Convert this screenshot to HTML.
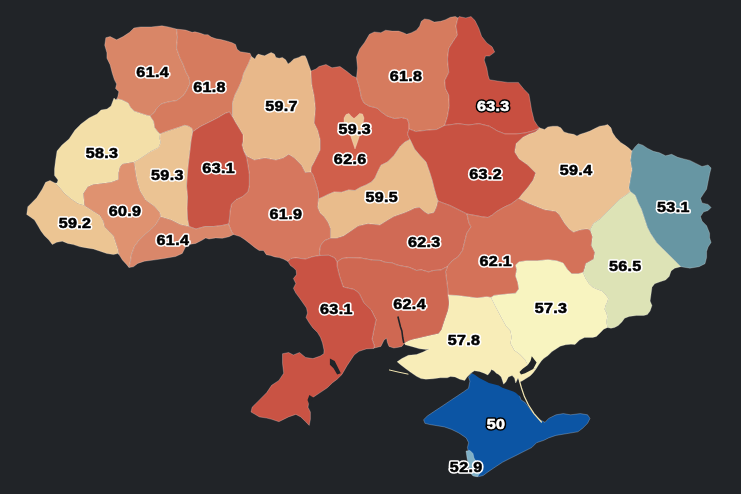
<!DOCTYPE html><html><head><meta charset="utf-8"><style>
html,body{margin:0;padding:0;background:#212428;}svg{display:block;filter:blur(0.4px)}
.r{stroke:#fff;stroke-opacity:.3;stroke-width:.8;stroke-linejoin:round}
.l{font-family:"Liberation Sans",sans-serif;font-weight:bold;font-size:14px;text-anchor:middle;letter-spacing:0.3px;stroke-linejoin:round}
.w{fill:#fff;stroke:#000}
</style></head><body>
<svg width="741" height="494" viewBox="0 0 741 494">
<rect width="741" height="494" fill="#212428"/>
<polygon class="r" fill="#0c55a4" points="423.6,419.7 427.3,416.0 434.6,411.1 441.9,406.3 449.1,401.4 456.4,396.6 463.7,391.7 468.5,388.3 469.9,381.2 468.5,377.0 471.3,373.5 476.0,372.5 481.0,373.5 486.0,372.0 490.0,371.5 494.0,373.0 498.0,375.0 502.0,377.0 506.0,379.0 510.0,380.0 514.0,382.0 516.5,386.0 518.5,392.0 520.9,399.7 525.2,402.5 529.4,408.2 533.7,413.8 539.3,419.5 545.0,422.3 548.7,418.4 556.0,414.8 563.3,413.6 570.6,414.8 580.3,413.6 587.6,414.8 590.0,418.4 587.6,423.3 582.7,428.2 577.9,431.8 570.6,433.0 563.3,434.2 556.0,435.4 548.7,437.9 543.9,440.3 536.6,442.7 531.7,447.6 526.9,450.0 522.0,452.4 517.2,454.9 509.9,458.5 502.6,462.2 495.3,467.0 488.0,471.9 483.2,475.5 478.3,476.7 473.4,475.5 469.8,471.9 468.6,464.6 469.8,457.3 468.6,452.4 467.4,447.6 468.6,442.7 466.2,437.9 458.9,433.0 451.6,429.4 444.3,426.9 437.0,425.7 429.7,424.5 424.9,423.3"/>
<polygon fill="#212428" points="471.0,373.0 474.4,374.4 479.3,378.1 484.2,380.5 489.0,382.9 493.9,384.2 498.7,385.4 502.4,387.8 506.0,389.0 509.7,390.2 513.3,391.4 515.7,392.7 518.2,395.1 521.0,397.0 522.0,390.0 521.0,380.0 518.0,372.0 500.0,366.0 480.0,366.0 472.0,369.0"/>
<polygon class="r" fill="#d98667" points="116.0,100.0 117.7,97.0 118.8,91.7 115.5,88.4 116.6,84.1 114.4,79.8 112.3,73.3 110.1,64.7 106.9,58.2 106.9,52.8 104.7,45.2 105.8,37.7 110.1,36.6 116.6,39.8 123.1,36.6 129.6,32.3 133.9,28.0 140.4,26.9 151.2,26.9 162.0,25.8 168.4,26.9 176.5,29.0 177.5,37.0 176.5,48.0 180.0,58.0 183.0,64.0 186.0,72.0 189.0,77.5 190.0,83.5 187.0,90.0 183.5,95.5 177.0,100.5 168.0,102.0 161.0,104.0 157.0,108.0 154.0,113.0 150.0,116.0 146.4,115.2 140.3,113.2 134.3,111.2 130.2,107.1 128.2,103.1 122.1,100.1 118.1,99.0"/>
<polygon class="r" fill="#d67b5e" points="176.5,29.0 185.7,30.1 192.2,32.3 195.0,31.8 199.9,33.1 204.7,34.7 208.0,34.7 211.2,37.1 216.1,38.8 220.9,39.6 227.4,41.2 232.2,42.8 235.5,44.4 237.1,49.3 240.3,51.7 245.2,52.5 250.1,53.3 251.5,56.5 248.4,63.9 243.6,73.6 242.0,80.0 239.0,87.0 235.0,95.0 232.5,103.0 232.5,111.0 232.5,117.0 229.4,112.0 225.2,113.4 218.0,117.7 209.6,122.0 201.0,126.2 192.6,131.9 191.9,128.4 188.9,126.4 184.8,125.3 178.8,127.4 172.7,129.4 166.6,131.4 160.0,134.0 157.5,131.4 154.5,127.4 153.5,121.3 150.0,116.0 154.0,113.0 157.0,108.0 161.0,104.0 168.0,102.0 177.0,100.5 183.5,95.5 187.0,90.0 190.0,83.5 189.0,77.5 186.0,72.0 183.0,64.0 180.0,58.0 176.5,48.0 177.5,37.0"/>
<polygon class="r" fill="#e8b88a" points="251.5,56.5 254.9,59.0 256.5,55.8 258.2,54.1 261.4,55.0 264.6,55.8 267.9,54.1 271.1,52.5 274.4,54.1 276.0,57.4 279.2,58.2 282.4,57.4 285.7,59.8 288.1,63.9 290.5,62.2 293.8,59.0 298.6,57.4 301.9,55.8 305.1,55.8 306.7,59.0 308.4,63.9 311.0,71.0 311.8,84.3 314.3,96.4 315.5,108.5 314.3,123.1 317.9,130.4 320.3,140.1 320.3,149.8 316.7,157.1 314.3,161.9 311.5,167.0 311.0,172.0 305.2,172.6 301.6,165.4 294.3,158.0 288.8,154.4 283.4,158.0 276.0,160.0 265.0,158.0 254.2,160.0 246.9,156.2 243.5,150.5 242.0,145.0 243.0,141.0 243.0,135.0 239.5,129.0 235.5,122.5 232.5,117.0 232.5,111.0 232.5,103.0 235.0,95.0 239.0,87.0 242.0,80.0 243.6,73.6 248.4,63.9"/>
<polygon class="r" fill="#d05f4b" points="311.0,71.0 316.0,69.0 319.0,66.5 326.0,64.5 332.0,67.8 340.0,66.5 347.0,71.5 352.5,76.0 356.5,77.7 359.5,88.0 361.5,98.0 364.0,103.0 369.0,106.0 377.0,108.0 381.5,112.0 387.0,116.0 394.7,118.5 401.5,117.5 407.5,119.0 409.0,124.0 409.0,129.0 407.5,134.0 410.0,139.5 405.0,142.0 400.5,146.0 394.0,155.5 387.5,162.0 381.0,165.2 377.8,171.7 375.0,178.0 371.5,182.0 366.0,185.0 360.0,187.5 355.0,190.5 348.6,190.0 341.5,192.3 334.0,192.0 328.0,194.5 323.0,197.0 318.5,199.0 318.5,193.0 316.2,184.6 313.0,175.0 311.0,172.0 311.5,167.0 314.3,161.9 316.7,157.1 320.3,149.8 320.3,140.1 317.9,130.4 314.3,123.1 315.5,108.5 314.3,96.4 311.8,84.3"/>
<polygon class="r" fill="#d67b5e" points="356.5,77.7 357.5,68.0 356.5,57.0 359.7,48.9 364.6,42.4 369.4,34.3 374.3,31.9 380.8,32.7 385.6,30.2 392.1,31.1 398.6,31.1 403.4,32.7 406.7,34.3 411.5,32.7 416.4,30.2 419.6,26.2 421.3,21.3 424.5,18.9 429.4,19.7 434.2,22.1 440.7,21.3 445.5,19.7 450.4,17.3 455.3,16.5 458.0,18.0 456.0,26.0 457.5,35.0 452.8,42.0 448.8,48.5 447.5,59.0 448.8,72.5 444.8,80.5 445.5,88.5 448.8,95.0 449.3,106.0 447.5,116.5 444.7,125.5 436.8,129.5 426.3,130.3 415.8,131.6 409.0,129.0 409.0,124.0 407.5,119.0 401.5,117.5 394.7,118.5 387.0,116.0 381.5,112.0 377.0,108.0 369.0,106.0 364.0,103.0 361.5,98.0 359.5,88.0"/>
<polygon class="r" fill="#c84f40" points="458.0,18.0 459.2,16.6 465.8,17.9 471.0,16.6 475.0,20.5 478.9,28.4 481.6,36.3 486.8,42.9 492.1,46.8 494.7,52.1 489.5,56.0 485.5,56.0 484.2,60.0 486.8,67.9 488.2,75.8 489.5,79.7 497.4,81.0 507.9,82.4 518.4,82.4 523.7,89.0 528.9,94.2 530.3,102.1 531.6,110.0 534.2,120.5 538.0,126.5 540.0,128.0 533.0,131.0 525.0,133.0 516.0,134.0 505.0,134.0 497.4,131.0 489.5,126.3 479.0,123.7 468.4,125.0 458.0,123.7 444.7,125.5 447.5,116.5 449.3,106.0 448.8,95.0 445.5,88.5 444.8,80.5 448.8,72.5 447.5,59.0 448.8,48.5 452.8,42.0 457.5,35.0 456.0,26.0"/>
<polygon class="r" fill="#ebc193" points="540.0,128.0 544.6,129.4 547.8,127.0 552.7,126.2 557.5,126.2 560.8,127.8 564.0,131.9 568.9,133.5 573.7,134.3 577.0,135.9 580.2,134.3 585.1,132.7 589.9,131.1 594.8,128.6 599.6,126.2 604.5,125.4 607.7,124.6 611.0,127.8 612.6,132.7 615.8,137.5 620.7,142.4 625.5,145.6 628.8,148.1 632.0,151.0 630.6,160.4 632.2,169.5 630.6,178.6 629.1,187.7 630.3,191.5 626.8,194.5 620.2,198.9 613.5,205.6 606.8,212.3 600.1,218.9 593.5,223.4 590.0,230.0 586.8,229.0 580.1,230.0 573.4,232.3 569.0,229.0 564.5,223.4 559.0,214.5 555.6,211.5 544.3,209.7 528.7,203.5 518.5,198.5 522.0,194.0 528.0,187.0 533.0,180.0 535.5,173.0 527.5,165.0 519.0,159.0 514.6,152.0 516.0,143.5 523.0,137.0 529.0,134.0 535.0,132.0"/>
<polygon class="r" fill="#6796a3" points="632.0,151.0 635.2,146.7 638.2,143.7 642.8,145.2 647.3,148.2 653.4,151.3 659.5,152.8 665.6,155.8 671.6,154.3 677.7,157.3 683.8,158.9 689.9,160.4 695.9,163.4 702.0,166.5 708.1,164.9 711.1,168.0 709.6,174.0 708.1,181.6 706.6,189.2 703.5,193.8 700.5,198.3 702.0,202.9 708.1,204.4 711.1,207.5 708.1,210.5 703.5,212.0 700.5,216.6 702.0,221.1 706.6,225.7 709.6,233.3 709.6,237.8 711.1,242.4 708.1,247.0 706.6,251.5 706.6,257.6 705.0,263.7 699.0,266.7 689.9,268.2 680.8,266.7 674.7,260.6 668.6,254.5 662.5,248.5 656.5,242.4 650.4,233.3 647.3,227.2 644.3,218.1 641.3,209.0 638.2,202.9 635.2,195.3 630.3,191.5 629.1,187.7 630.6,178.6 632.2,169.5 630.6,160.4"/>
<polygon class="r" fill="#dde3b6" points="680.8,266.7 674.7,268.2 671.1,270.9 669.2,276.4 665.6,280.0 660.1,281.8 654.7,283.7 652.0,287.3 651.0,294.6 650.1,301.0 652.0,305.5 650.1,311.0 647.4,314.6 643.8,315.5 636.5,315.5 629.2,316.4 624.6,318.3 621.9,321.9 618.3,325.6 614.6,327.4 611.0,328.3 607.5,327.5 606.4,321.9 607.3,316.4 606.4,312.8 604.6,309.2 605.5,305.5 607.3,301.9 608.3,298.2 605.5,294.6 601.9,291.0 596.4,289.1 592.8,287.3 589.1,283.7 585.5,278.2 583.0,272.5 584.6,268.0 585.7,263.4 593.5,259.0 594.6,252.3 591.2,245.6 592.3,236.7 590.0,230.0 593.5,223.4 600.1,218.9 606.8,212.3 613.5,205.6 620.2,198.9 626.8,194.5 630.3,191.5 635.2,195.3 638.2,202.9 641.3,209.0 644.3,218.1 647.3,227.2 650.4,233.3 656.5,242.4 662.5,248.5 668.6,254.5 674.7,260.6"/>
<polygon class="r" fill="#c85242" points="409.0,129.0 415.8,131.6 426.3,130.3 436.8,129.5 444.7,125.5 458.0,123.7 468.4,125.0 479.0,123.7 489.5,126.3 497.4,131.0 505.0,134.0 516.0,134.0 525.0,133.0 533.0,131.0 540.0,128.0 535.0,132.0 529.0,134.0 523.0,137.0 516.0,143.5 514.6,152.0 519.0,159.0 527.5,165.0 535.5,173.0 533.0,180.0 528.0,187.0 522.0,194.0 518.5,198.5 511.1,204.0 504.4,207.0 496.6,211.5 492.3,215.0 488.0,217.5 482.0,216.8 475.3,215.5 467.0,214.0 458.0,209.5 450.0,205.5 443.0,203.0 438.0,201.0 436.5,197.0 434.0,188.0 432.0,180.0 429.5,172.0 426.0,162.0 420.0,155.5 414.5,149.0 410.0,139.5 407.5,134.0"/>
<polygon class="r" fill="#e9bc8c" points="318.5,199.0 323.0,197.0 328.0,194.5 334.0,192.0 341.5,192.3 348.6,190.0 355.0,190.5 360.0,187.5 366.0,185.0 371.5,182.0 375.0,178.0 377.8,171.7 381.0,165.2 387.5,162.0 394.0,155.5 400.5,146.0 405.0,142.0 410.0,139.5 414.5,149.0 420.0,155.5 426.0,162.0 429.5,172.0 432.0,180.0 434.0,188.0 436.5,197.0 438.0,201.0 436.5,207.0 434.0,212.5 428.0,214.0 424.0,211.5 419.5,207.5 415.0,208.0 410.0,210.5 404.0,213.0 394.0,216.5 388.0,220.0 380.0,225.0 368.0,223.7 358.3,226.1 351.0,231.0 343.7,235.9 336.4,238.3 330.4,238.3 330.4,228.6 328.0,222.5 324.3,217.0 320.0,213.0 317.5,207.0"/>
<polygon class="r" fill="#d6775e" points="243.5,150.5 246.9,156.2 254.2,160.0 265.0,158.0 276.0,160.0 283.4,158.0 288.8,154.4 294.3,158.0 301.6,165.4 305.2,172.6 311.0,172.0 313.0,175.0 316.2,184.6 318.5,193.0 318.5,199.0 317.5,207.0 320.0,213.0 324.3,217.0 328.0,222.5 330.4,228.6 330.4,238.3 324.3,240.7 320.6,245.6 319.4,252.9 320.0,255.5 312.8,256.7 305.5,259.1 295.8,257.9 291.0,258.5 288.0,261.5 283.3,259.0 279.1,257.6 274.8,256.9 270.6,255.5 266.3,254.7 263.5,250.5 259.2,250.5 255.0,247.7 249.7,243.4 244.9,239.7 240.0,236.5 233.5,234.5 231.3,231.2 228.5,224.0 229.5,218.0 230.0,211.0 231.5,204.0 236.0,199.5 242.5,196.5 248.0,191.5 249.3,185.0 249.3,174.5 248.0,166.0 246.5,157.5"/>
<polygon class="r" fill="#c85444" points="192.6,131.9 201.0,126.2 209.6,122.0 218.0,117.7 225.2,113.4 229.4,112.0 232.5,117.0 235.5,122.5 239.5,129.0 243.0,135.0 243.0,141.0 242.0,145.0 243.5,150.5 246.5,157.5 248.0,166.0 249.3,174.5 249.3,185.0 248.0,191.5 242.5,196.5 236.0,199.5 231.5,204.0 230.0,211.0 229.5,218.0 228.5,224.0 222.0,225.5 213.5,226.5 205.0,226.5 196.0,229.0 189.0,226.5 187.5,219.0 187.0,208.5 187.5,197.0 186.5,186.0 187.0,178.0 188.0,166.0 189.7,152.0 191.0,140.5"/>
<polygon class="r" fill="#ebc393" points="160.0,134.0 166.6,131.4 172.7,129.4 178.8,127.4 184.8,125.3 188.9,126.4 191.9,128.4 192.6,131.9 191.0,140.5 189.7,152.0 188.0,166.0 187.0,178.0 186.5,186.0 187.5,197.0 187.0,208.5 187.5,219.0 189.0,226.5 180.0,224.5 171.2,220.0 160.5,216.7 160.0,213.0 154.5,206.5 145.5,200.0 140.0,191.0 137.5,183.0 136.0,176.0 135.0,169.0 134.0,162.0 138.3,159.7 144.4,155.7 150.5,151.6 158.5,147.6 160.6,142.5 159.6,138.5"/>
<polygon class="r" fill="#f3dfa8" points="55.0,183.0 57.0,183.0 58.0,180.0 54.5,175.6 54.5,168.9 55.6,160.0 57.0,151.0 62.0,145.0 69.0,139.0 75.0,130.0 81.0,124.0 89.0,118.0 97.0,114.0 101.0,110.0 107.0,109.0 111.0,106.0 114.0,98.0 116.0,100.0 118.1,99.0 122.1,100.1 128.2,103.1 130.2,107.1 134.3,111.2 140.3,113.2 146.4,115.2 150.0,116.0 153.5,121.3 154.5,127.4 157.5,131.4 160.0,134.0 159.6,138.5 160.6,142.5 158.5,147.6 150.5,151.6 144.4,155.7 138.3,159.7 134.0,162.0 128.5,163.0 122.5,164.0 120.0,167.0 118.5,173.0 118.5,179.5 111.2,182.3 102.3,183.4 93.4,184.5 87.9,186.7 83.4,193.4 84.5,205.6 77.9,203.4 71.2,199.0 64.5,193.4 59.0,186.7"/>
<polygon class="r" fill="#ecc593" points="119.0,254.6 117.9,253.5 113.5,254.6 106.8,253.5 100.1,251.2 93.4,249.0 86.8,247.9 80.1,246.8 73.4,244.6 67.8,243.4 62.3,241.2 56.7,242.3 52.3,244.6 48.9,240.1 44.5,235.7 41.1,231.2 37.8,225.6 34.5,220.0 30.0,216.7 26.7,214.5 27.8,206.7 31.1,203.4 36.7,197.8 42.3,188.9 45.6,182.3 50.0,180.5 55.0,183.0 59.0,186.7 64.5,193.4 71.2,199.0 77.9,203.4 84.5,205.6 93.4,211.2 100.1,215.6 103.4,221.2 104.6,226.8 109.0,231.2 113.5,235.7 115.7,242.3 117.9,249.0"/>
<polygon class="r" fill="#df9270" points="134.0,162.0 128.5,163.0 122.5,164.0 120.0,167.0 118.5,173.0 118.5,179.5 111.2,182.3 102.3,183.4 93.4,184.5 87.9,186.7 83.4,193.4 84.5,205.6 93.4,211.2 100.1,215.6 103.4,221.2 104.6,226.8 109.0,231.2 113.5,235.7 115.7,242.3 117.9,249.0 119.0,254.6 122.4,260.0 126.5,264.5 129.0,267.5 130.5,261.0 131.5,254.5 134.5,246.5 140.0,239.0 148.0,232.0 156.0,224.5 160.5,216.7 160.0,213.0 154.5,206.5 145.5,200.0 140.0,191.0 137.5,183.0 136.0,176.0 135.0,169.0"/>
<polygon class="r" fill="#d9876a" points="233.5,234.5 229.0,236.7 222.4,238.3 215.7,237.9 209.0,239.0 205.7,237.9 202.3,240.1 195.7,243.4 189.0,244.5 185.6,246.8 182.3,253.4 175.6,256.5 164.0,258.5 153.4,260.1 144.5,261.2 137.8,263.4 133.4,266.8 129.0,267.5 130.5,261.0 131.5,254.5 134.5,246.5 140.0,239.0 148.0,232.0 156.0,224.5 160.5,216.7 171.2,220.0 180.0,224.5 189.0,226.5 196.0,229.0 205.0,226.5 213.5,226.5 222.0,225.5 228.5,224.0 231.3,231.2"/>
<polygon class="r" fill="#d06a55" points="438.0,201.0 443.0,203.0 450.0,205.5 458.0,209.5 467.0,214.0 468.9,222.7 471.0,226.9 466.8,233.3 464.7,241.8 462.6,250.3 458.3,256.7 451.9,261.0 447.5,266.5 441.0,270.0 433.6,270.5 428.6,272.0 421.4,269.9 416.4,270.5 409.3,267.4 404.3,266.5 397.0,265.0 392.0,262.8 385.0,262.3 380.0,260.4 372.9,260.2 360.7,258.0 348.6,257.7 342.0,258.5 337.0,262.0 334.7,257.9 329.0,255.3 320.0,255.5 319.4,252.9 320.6,245.6 324.3,240.7 330.4,238.3 336.4,238.3 343.7,235.9 351.0,231.0 358.3,226.1 368.0,223.7 380.0,225.0 388.0,220.0 394.0,216.5 404.0,213.0 410.0,210.5 415.0,208.0 419.5,207.5 424.0,211.5 428.0,214.0 434.0,212.5 436.5,207.0"/>
<polygon class="r" fill="#d47259" points="467.0,214.0 475.3,215.5 482.0,216.8 488.0,217.5 492.3,215.0 496.6,211.5 504.4,207.0 511.1,204.0 518.5,198.5 528.7,203.5 544.3,209.7 555.6,211.5 559.0,214.5 564.5,223.4 569.0,229.0 573.4,232.3 580.1,230.0 586.8,229.0 590.0,230.0 592.3,236.7 591.2,245.6 594.6,252.3 593.5,259.0 585.7,263.4 584.6,268.0 583.0,272.5 578.2,273.8 571.7,273.8 567.4,269.4 563.1,263.0 556.6,260.8 548.0,259.7 537.2,260.8 526.4,260.8 518.8,261.9 515.6,265.1 516.7,269.4 515.6,275.9 517.8,282.4 518.8,288.9 515.6,293.2 504.8,294.3 494.0,295.4 491.0,297.5 486.8,296.8 477.1,298.0 467.4,296.8 457.7,295.6 448.0,295.0 447.7,288.6 446.6,280.1 445.5,271.6 447.5,266.5 451.9,261.0 458.3,256.7 462.6,250.3 464.7,241.8 466.8,233.3 471.0,226.9 468.9,222.7"/>
<polygon class="r" fill="#f8f4c0" points="491.0,297.5 494.0,295.4 504.8,294.3 515.6,293.2 518.8,288.9 517.8,282.4 515.6,275.9 516.7,269.4 515.6,265.1 518.8,261.9 526.4,260.8 537.2,260.8 548.0,259.7 556.6,260.8 563.1,263.0 567.4,269.4 571.7,273.8 578.2,273.8 583.0,272.5 585.5,278.2 589.1,283.7 592.8,287.3 596.4,289.1 601.9,291.0 605.5,294.6 608.3,298.2 607.3,301.9 605.5,305.5 604.6,309.2 606.4,312.8 607.3,316.4 606.4,321.9 607.5,327.5 603.7,329.2 600.0,333.0 596.4,336.5 592.8,337.4 587.3,337.4 584.5,337.6 579.5,340.0 575.0,344.5 571.0,344.2 565.6,344.8 560.2,346.2 556.0,349.0 552.0,351.6 548.0,355.6 544.0,358.3 541.3,361.0 538.5,365.0 536.0,369.0 527.8,365.1 525.1,359.7 519.7,354.3 514.3,350.2 510.5,343.5 511.5,337.0 510.5,331.0 506.0,326.0 501.0,317.0 496.0,307.5"/>
<polygon class="r" fill="#f8edb8" points="448.0,295.0 457.7,295.6 467.4,296.8 477.1,298.0 486.8,296.8 491.0,297.5 496.0,307.5 501.0,317.0 506.0,326.0 510.5,331.0 511.5,337.0 510.5,343.5 514.3,350.2 519.7,354.3 525.1,359.7 527.8,365.1 536.0,369.0 533.0,373.0 530.0,376.0 526.0,378.5 522.0,381.0 519.5,382.0 518.0,378.0 515.7,383.0 514.5,378.1 512.1,375.6 508.4,376.9 506.0,381.7 503.6,384.2 502.4,380.5 501.2,376.9 498.7,374.4 496.3,373.2 493.9,370.8 491.4,369.6 490.2,372.0 487.8,375.0 484.2,373.2 479.3,371.4 474.4,370.8 470.8,373.2 467.1,376.9 464.7,380.5 459.9,379.3 455.0,376.9 450.5,376.5 447.3,377.8 440.4,377.8 433.1,378.8 425.8,379.2 421.0,378.6 416.5,376.3 411.0,372.5 405.5,368.5 400.3,364.5 397.1,361.8 401.9,358.5 408.4,355.3 416.5,354.5 423.0,352.1 429.4,348.8 426.2,349.6 419.7,348.8 411.6,346.4 405.2,344.8 404.5,343.0 408.5,340.8 413.0,339.3 418.8,338.0 425.0,336.5 431.5,335.0 438.5,333.5 441.5,329.5 443.4,323.4 445.7,316.7 448.0,310.0 449.0,303.0"/>
<polygon class="r" fill="#cf6852" points="337.0,262.0 342.0,258.5 348.6,257.7 360.7,258.0 372.9,260.2 380.0,260.4 385.0,262.3 392.0,262.8 397.0,265.0 404.3,266.5 409.3,267.4 416.4,270.5 421.4,269.9 428.6,272.0 433.6,270.5 441.0,270.0 447.5,266.5 445.5,271.6 446.6,280.1 447.7,288.6 448.0,295.0 449.0,303.0 448.0,310.0 445.7,316.7 443.4,323.4 441.5,329.5 438.5,333.5 431.5,335.0 425.0,336.5 418.8,338.0 413.0,339.3 408.5,340.8 404.5,343.0 401.9,346.4 398.7,347.2 393.8,348.0 389.0,346.4 387.4,342.4 386.6,338.3 384.1,339.9 380.9,346.4 374.4,348.0 373.6,348.5 374.4,346.0 372.0,339.1 373.6,331.0 376.0,319.7 371.2,310.0 363.8,302.8 359.0,293.1 354.1,289.5 343.2,287.0 339.5,276.1 337.1,266.4"/>
<polygon class="r" fill="#c95344" points="320.0,255.5 329.0,255.3 334.7,257.9 337.0,262.0 337.1,266.4 339.5,276.1 343.2,287.0 354.1,289.5 359.0,293.1 363.8,302.8 371.2,310.0 376.0,319.7 373.6,331.0 372.0,339.1 374.4,346.0 373.6,348.5 366.3,348.9 359.0,351.3 354.2,354.9 346.9,365.9 342.0,374.4 337.2,379.2 332.3,382.9 327.4,387.7 320.2,392.6 312.9,397.4 309.2,399.9 308.0,407.2 310.4,412.0 310.4,419.3 309.2,425.4 305.6,421.7 300.7,416.9 295.9,414.4 288.6,416.9 278.9,421.7 271.6,419.3 266.7,418.1 259.4,416.9 251.0,412.0 252.1,407.2 259.4,399.9 266.7,392.6 271.6,385.3 278.9,380.4 283.7,373.2 282.5,363.4 282.5,353.7 288.6,352.5 293.4,354.9 299.5,352.5 305.6,357.4 312.9,358.6 320.2,356.1 323.8,353.7 324.0,350.0 322.5,343.0 320.5,337.5 317.5,332.5 312.5,327.5 309.0,322.5 306.0,317.5 307.5,313.0 306.5,308.0 303.0,303.0 299.5,298.0 295.8,293.1 293.4,288.3 295.8,283.4 293.4,278.6 296.5,274.6 296.1,270.3 293.2,267.5 290.4,265.5 288.0,261.5 291.0,258.5 295.8,257.9 305.5,259.1 312.8,256.7"/>
<polygon class="r" fill="#7fb0c6" points="466.0,451.0 470.0,450.5 473.0,453.5 474.0,458.0 477.0,463.0 479.5,468.0 480.0,473.0 477.5,476.8 473.0,476.0 469.5,472.0 468.5,465.0 467.0,458.0"/>
<polygon class="r" fill="#ebc393" points="344.0,118.0 346.0,114.5 349.0,113.5 351.0,116.0 354.0,118.5 357.0,116.0 359.5,113.5 362.5,114.0 364.0,118.0 363.0,124.0 361.0,130.0 359.5,136.0 357.5,142.0 355.0,149.0 353.0,143.0 351.0,137.0 349.0,131.0 346.0,126.0 344.0,122.0"/>
<polyline fill="none" stroke="#212428" stroke-width="1.6" stroke-linejoin="round" points="397.9,316.5 399.5,323.0 400.5,327.0 401.9,331.0 402.7,337.5 403.8,343.0"/>
<polygon fill="#212428" points="329.9,358.6 334.7,361.0 337.2,365.9 340.8,373.2 337.2,374.4 333.5,368.3 329.9,364.7"/>
<polygon fill="#212428" points="531.8,356.3 536.6,362.4 533.2,369.1 525.1,373.2 521.0,374.5 519.5,372.0 522.4,369.1 527.8,365.1 530.5,361.0"/>
<polygon fill="#212428" points="309.4,394.9 313.7,397.7 311.5,401.0 309.0,404.0 307.5,400.0"/>
<polyline fill="none" stroke="#f3e6b2" stroke-width="1.2" stroke-linecap="round" points="519.5,381.0 521.5,388.0 524.4,396.6 528.5,405.0 534.0,413.6 541.4,422.0"/>
<polyline fill="none" stroke="#f3e6b2" stroke-width="1" points="389.0,369.9 398.0,372.0 408.4,374.2"/>
<g transform="translate(152.7,77.10) scale(1.15,1)"><text class="l" fill="#fff" stroke="#fff" stroke-width="3.4">61.4</text><text class="l" fill="#000" stroke="#000" stroke-width="0.55">61.4</text></g>
<g transform="translate(209.5,92.00) scale(1.15,1)"><text class="l" fill="#fff" stroke="#fff" stroke-width="3.4">61.8</text><text class="l" fill="#000" stroke="#000" stroke-width="0.55">61.8</text></g>
<g transform="translate(281.5,111.40) scale(1.15,1)"><text class="l" fill="#fff" stroke="#fff" stroke-width="3.4">59.7</text><text class="l" fill="#000" stroke="#000" stroke-width="0.55">59.7</text></g>
<g transform="translate(354.8,133.60) scale(1.15,1)"><text class="l" fill="#fff" stroke="#fff" stroke-width="3.4">59.3</text><text class="l" fill="#000" stroke="#000" stroke-width="0.55">59.3</text></g>
<g transform="translate(406.0,81.20) scale(1.15,1)"><text class="l" fill="#fff" stroke="#fff" stroke-width="3.4">61.8</text><text class="l" fill="#000" stroke="#000" stroke-width="0.55">61.8</text></g>
<g transform="translate(493.3,111.40) scale(1.15,1)"><text class="l" fill="#000" stroke="#000" stroke-width="3.4">63.3</text><text class="l" fill="#fff" stroke="#fff" stroke-width="0.55">63.3</text></g>
<g transform="translate(102.0,158.40) scale(1.15,1)"><text class="l" fill="#fff" stroke="#fff" stroke-width="3.4">58.3</text><text class="l" fill="#000" stroke="#000" stroke-width="0.55">58.3</text></g>
<g transform="translate(167.4,179.60) scale(1.15,1)"><text class="l" fill="#fff" stroke="#fff" stroke-width="3.4">59.3</text><text class="l" fill="#000" stroke="#000" stroke-width="0.55">59.3</text></g>
<g transform="translate(218.7,173.20) scale(1.15,1)"><text class="l" fill="#fff" stroke="#fff" stroke-width="3.4">63.1</text><text class="l" fill="#000" stroke="#000" stroke-width="0.55">63.1</text></g>
<g transform="translate(350.2,164.10) scale(1.15,1)"><text class="l" fill="#fff" stroke="#fff" stroke-width="3.4">62.6</text><text class="l" fill="#000" stroke="#000" stroke-width="0.55">62.6</text></g>
<g transform="translate(381.8,201.50) scale(1.15,1)"><text class="l" fill="#fff" stroke="#fff" stroke-width="3.4">59.5</text><text class="l" fill="#000" stroke="#000" stroke-width="0.55">59.5</text></g>
<g transform="translate(485.6,178.80) scale(1.15,1)"><text class="l" fill="#fff" stroke="#fff" stroke-width="3.4">63.2</text><text class="l" fill="#000" stroke="#000" stroke-width="0.55">63.2</text></g>
<g transform="translate(576.1,174.70) scale(1.15,1)"><text class="l" fill="#fff" stroke="#fff" stroke-width="3.4">59.4</text><text class="l" fill="#000" stroke="#000" stroke-width="0.55">59.4</text></g>
<g transform="translate(673.4,211.70) scale(1.15,1)"><text class="l" fill="#fff" stroke="#fff" stroke-width="3.4">53.1</text><text class="l" fill="#000" stroke="#000" stroke-width="0.55">53.1</text></g>
<g transform="translate(75.0,227.90) scale(1.15,1)"><text class="l" fill="#fff" stroke="#fff" stroke-width="3.4">59.2</text><text class="l" fill="#000" stroke="#000" stroke-width="0.55">59.2</text></g>
<g transform="translate(125.0,216.30) scale(1.15,1)"><text class="l" fill="#fff" stroke="#fff" stroke-width="3.4">60.9</text><text class="l" fill="#000" stroke="#000" stroke-width="0.55">60.9</text></g>
<g transform="translate(285.9,219.20) scale(1.15,1)"><text class="l" fill="#fff" stroke="#fff" stroke-width="3.4">61.9</text><text class="l" fill="#000" stroke="#000" stroke-width="0.55">61.9</text></g>
<g transform="translate(172.9,244.90) scale(1.15,1)"><text class="l" fill="#fff" stroke="#fff" stroke-width="3.4">61.4</text><text class="l" fill="#000" stroke="#000" stroke-width="0.55">61.4</text></g>
<g transform="translate(424.3,246.50) scale(1.15,1)"><text class="l" fill="#fff" stroke="#fff" stroke-width="3.4">62.3</text><text class="l" fill="#000" stroke="#000" stroke-width="0.55">62.3</text></g>
<g transform="translate(495.8,266.20) scale(1.15,1)"><text class="l" fill="#fff" stroke="#fff" stroke-width="3.4">62.1</text><text class="l" fill="#000" stroke="#000" stroke-width="0.55">62.1</text></g>
<g transform="translate(625.3,271.40) scale(1.15,1)"><text class="l" fill="#fff" stroke="#fff" stroke-width="3.4">56.5</text><text class="l" fill="#000" stroke="#000" stroke-width="0.55">56.5</text></g>
<g transform="translate(336.4,313.90) scale(1.15,1)"><text class="l" fill="#fff" stroke="#fff" stroke-width="3.4">63.1</text><text class="l" fill="#000" stroke="#000" stroke-width="0.55">63.1</text></g>
<g transform="translate(409.6,308.90) scale(1.15,1)"><text class="l" fill="#fff" stroke="#fff" stroke-width="3.4">62.4</text><text class="l" fill="#000" stroke="#000" stroke-width="0.55">62.4</text></g>
<g transform="translate(551.0,313.30) scale(1.15,1)"><text class="l" fill="#fff" stroke="#fff" stroke-width="3.4">57.3</text><text class="l" fill="#000" stroke="#000" stroke-width="0.55">57.3</text></g>
<g transform="translate(464.0,344.80) scale(1.15,1)"><text class="l" fill="#fff" stroke="#fff" stroke-width="3.4">57.8</text><text class="l" fill="#000" stroke="#000" stroke-width="0.55">57.8</text></g>
<g transform="translate(466.2,472.30) scale(1.15,1)"><text class="l" fill="#fff" stroke="#fff" stroke-width="3.4">52.9</text><text class="l" fill="#000" stroke="#000" stroke-width="0.55">52.9</text></g>
<g transform="translate(496.1,429.10) scale(1.15,1)"><text class="l" fill="#000" stroke="#000" stroke-width="3.4">50</text><text class="l" fill="#fff" stroke="#fff" stroke-width="0.55">50</text></g>
</svg></body></html>
